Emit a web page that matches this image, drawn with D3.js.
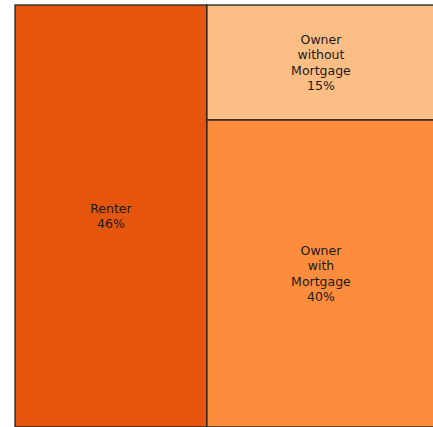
<!DOCTYPE html>
<html>
<head>
<meta charset="utf-8">
<script src="https://cdn.jsdelivr.net/npm/d3@7"></script>
<style>
  body { margin: 0; background: #fff; }
  svg { display: block; }
</style>
</head>
<body>
<div id="chart"></div>
<script>
// housing tenure treemap

const width = 433;
const height = 427;
const margin = {top: 5, right: -2, bottom: 0, left: 15};

// data
const groups = ["Renter", "Owner"];
const categories = ["Renter", "Owner without Mortgage", "Owner with Mortgage"];
const parents = ["Renter", "Owner", "Owner"];
const shares = [45.7, 14.8, 39.5];
const colors = ["#e6550d", "#fdbe85", "#fd8d3c"];

const svg = d3.select("#chart")
  .append("svg")
  .attr("width", width)
  .attr("height", height);

const tree = {
  name: "root",
  children: groups.map(g => {
    const kids = categories
      .map((c, i) => ({name: c, value: shares[i], color: colors[i]}))
      .filter((d, i) => parents[i] === g);
    return kids.length === 1 && kids[0].name === g ? kids[0] : {name: g, children: kids};
  })
};

const root = d3.hierarchy(tree)
  .sum(d => d.value || 0);

d3.treemap()
  .tile(d3.treemapSliceDice)
  .size([width - margin.left - margin.right, height - margin.top - margin.bottom])
  .round(false)(root);

const total = root.value;

const g = svg.append("g")
  .attr("transform", `translate(${margin.left},${margin.top})`);

const cells = g.selectAll(".cell")
  .data(root.leaves())
  .join("g")
    .attr("class", "cell")
    .attr("transform", d => `translate(${d.x0},${d.y0})`);

cells.append("rect")
  .attr("width", d => d.x1 - d.x0)
  .attr("height", d => d.y1 - d.y0)
  .attr("fill", d => d.data.color)
  .attr("stroke", "#222")
  .attr("stroke-width", 1.3);

const lineH = 15.5;
cells.append("text")
  .attr("fill", "#1a1a1a")
  .style("font-family", "'DejaVu Sans', sans-serif")
  .style("font-size", "12.5px")
  .attr("text-anchor", "middle")
  .each(function(d) {
    const words = d.data.name.split(" ");
    const lines = words.concat([Math.round(d.value / total * 100) + "%"]);
    const cx = (d.x1 - d.x0) / 2;
    const cy = (d.y1 - d.y0) / 2;
    const start = cy - (lines.length - 1) * lineH / 2;
    d3.select(this).selectAll("tspan")
      .data(lines)
      .join("tspan")
        .attr("x", cx)
        .attr("y", (l, i) => start + i * lineH)
        .attr("dy", "0.35em")
        .text(l => l);
  });
</script>
</body>
</html>
